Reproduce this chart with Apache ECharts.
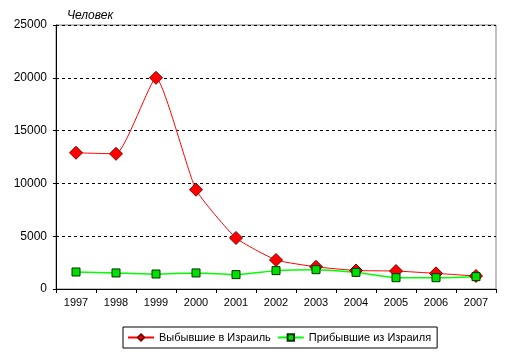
<!DOCTYPE html>
<html><head><meta charset="utf-8">
<script src="https://cdn.jsdelivr.net/npm/echarts@6/dist/echarts.min.js"></script>
<style>html,body{margin:0;padding:0;background:#fff}#c{width:515px;height:357px}</style>
</head><body><div id="c"></div>
<script>
var years = ['1997','1998','1999','2000','2001','2002','2003','2004','2005','2006','2007'];
var departed = [12900, 12800, 20000, 9400, 4830, 2750, 2100, 1750, 1700, 1480, 1230];
var arrived = [1610, 1520, 1420, 1520, 1360, 1740, 1830, 1580, 1070, 1070, 1170];
var yTicks = [0, 5000, 10000, 15000, 20000, 25000];
var names = ['Выбывшие в Израиль', 'Прибывшие из Израиля'];
var unit = 'Человек';

var chart = echarts.init(document.getElementById('c'), null, {renderer:'canvas'});
var font = 'Liberation Sans, Arial, sans-serif';
chart.setOption({
  animation:false,
  textStyle:{fontFamily:font},
  grid:{left:56, right:19, top:25, bottom:68, show:true, borderColor:'#808080', borderWidth:1},
  legend:{
    bottom:9, left:123, itemGap:6, itemWidth:26, itemHeight:8,
    borderColor:'#000', borderWidth:1, padding:[5,6,5,4],
    textStyle:{fontFamily:font, fontSize:11, color:'#000'},
    data:[{name:names[0]},{name:names[1]}]
  },
  title:{text:unit, left:62, top:5, textStyle:{fontFamily:font, fontSize:12, fontStyle:'italic', fontWeight:'normal', color:'#000'}},
  xAxis:{
    type:'category', data:years, boundaryGap:true,
    axisLine:{lineStyle:{color:'#000'}},
    axisTick:{show:true, length:4, inside:false, lineStyle:{color:'#000'}},
    axisLabel:{color:'#000', fontSize:11, margin:8, fontFamily:font}
  },
  yAxis:{
    type:'value', min:yTicks[0], max:yTicks[yTicks.length-1], interval:5000,
    axisLine:{show:true, lineStyle:{color:'#000'}},
    axisTick:{show:true, length:3, lineStyle:{color:'#000'}},
    axisLabel:{color:'#000', fontSize:12, margin:9, fontFamily:font, formatter:function(v){return String(v);}},
    splitLine:{show:true, lineStyle:{color:'#000', type:[3,3], width:1}}
  },
  series:[
    {name:names[0], type:'line', data:departed, smooth:0.15, symbol:'diamond', symbolSize:13,
     lineStyle:{color:'#ff0000', width:1}, itemStyle:{color:'#ff0000', borderColor:'#800000', borderWidth:1}},
    {name:names[1], type:'line', data:arrived, smooth:0.15, symbol:'rect', symbolSize:8,
     lineStyle:{color:'#00ff00', width:1.5}, itemStyle:{color:'#00e000', borderColor:'#003300', borderWidth:1}}
  ]
});
</script></body></html>
